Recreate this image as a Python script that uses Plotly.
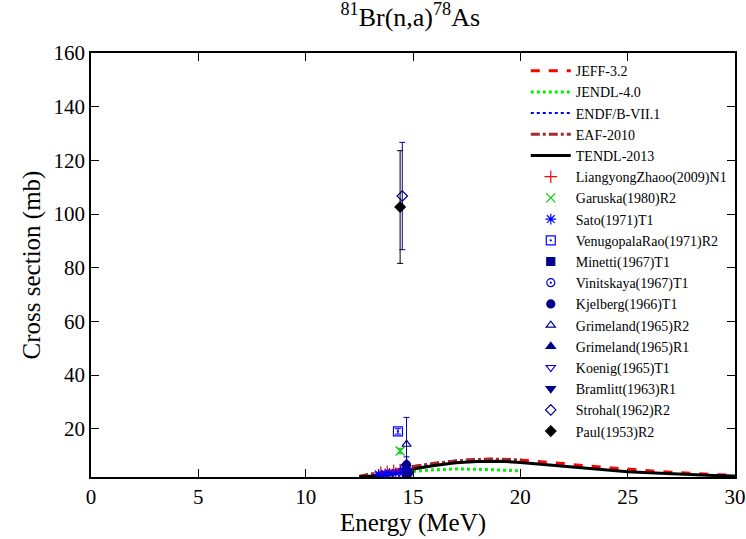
import plotly.graph_objects as go

# Evaluated data
e_eval = [12.5, 13, 13.5, 14, 14.5, 15, 16, 17, 18, 19, 20, 21, 22, 23, 24, 25, 26, 27, 28, 29, 30]
jeff = [2.2, 3.0, 3.5, 4.0, 4.9, 5.8, 7.0, 8.0, 8.6, 8.7, 8.3, 7.7, 7.0, 6.2, 5.5, 4.9, 4.3, 3.8, 3.3, 2.9, 2.6]
tendl = [2.0, 2.2, 2.4, 2.8, 3.8, 5.0, 6.3, 7.3, 7.8, 7.9, 7.4, 6.7, 6.0, 5.3, 4.6, 4.0, 3.6, 3.2, 2.9, 2.6, 2.4]
e_eval20 = [12.5, 13, 13.5, 14, 14.5, 15, 16, 17, 18, 19, 20]
jendl = [2.0, 2.3, 2.7, 3.2, 3.7, 4.1, 4.7, 5.0, 4.9, 4.6, 4.3]
endf = [2.1, 2.9, 3.4, 4.1, 5.0, 5.9, 7.1, 8.1, 8.6, 8.6, 8.4]
eaf = [2.2, 3.1, 3.6, 4.2, 5.0, 5.9, 7.1, 8.0, 8.5, 8.6, 8.3]

# Experimental data
zhao_e = [13.5, 13.8, 14.1, 14.4, 14.8]
zhao_v = [3.6, 3.9, 4.3, 4.6, 5.0]
zhao_err = [0.3, 0.3, 0.3, 0.4, 0.4]
garuska_e = [14.4]
garuska_v = [11.7]
garuska_err = [1.0]
sato_e = [13.4, 13.7, 13.9, 14.2, 14.5, 14.8]
sato_v = [3.0, 3.2, 3.3, 3.5, 3.6, 4.0]
sato_err = [0.4, 0.4, 0.4, 0.4, 0.4, 0.5]
venu_e = [14.3]
venu_v = [19.0]
venu_err = [1.0]
minetti_e = [14.7]
minetti_v = [3.5]
minetti_err = [0.7]
vinit_e = [14.6]
vinit_v = [5.5]
vinit_err = [1.0]
kjel_e = [14.7]
kjel_v = [6.5]
kjel_err = [1.0]
grimR2_e = [14.7]
grimR2_v = [14.2]
grimR2_err = [10.0]
grimR1_e = [14.7]
grimR1_v = [7.0]
grimR1_err = [2.5]
koenig_e = [14.6]
koenig_v = [4.5]
koenig_err = [0.8]
bram_e = [14.8]
bram_v = [3.0]
bram_err = [0.6]
strohal_e = [14.5]
strohal_v = [106.7]
strohal_err = [20.0]
paul_e = [14.4]
paul_v = [102.6]
paul_err = [21.0]

fig = go.Figure()

fig.add_trace(go.Scatter(x=e_eval, y=jeff, mode="lines", name="JEFF-3.2",
                         line=dict(color="#ff0000", width=3, dash="dash")))
fig.add_trace(go.Scatter(x=e_eval20, y=jendl, mode="lines", name="JENDL-4.0",
                         line=dict(color="#00ee00", width=3, dash="dot")))
fig.add_trace(go.Scatter(x=e_eval20, y=endf, mode="lines", name="ENDF/B-VII.1",
                         line=dict(color="#0000ff", width=2, dash="dot")))
fig.add_trace(go.Scatter(x=e_eval20, y=eaf, mode="lines", name="EAF-2010",
                         line=dict(color="#a52a2a", width=3, dash="dashdot")))
fig.add_trace(go.Scatter(x=e_eval, y=tendl, mode="lines", name="TENDL-2013",
                         line=dict(color="#000000", width=3)))

def exp(x, y, err, name, color, symbol, size=8):
    fig.add_trace(go.Scatter(
        x=x, y=y, mode="markers", name=name,
        marker=dict(color=color, symbol=symbol, size=size, line=dict(color=color, width=1.2)),
        error_y=dict(type="data", array=err, color=color, thickness=1, width=3),
    ))

exp(zhao_e, zhao_v, zhao_err, "LiangyongZhaoo(2009)N1", "#ff0000", "cross-thin-open", 9)
exp(garuska_e, garuska_v, garuska_err, "Garuska(1980)R2", "#00cc00", "x-thin-open", 9)
exp(sato_e, sato_v, sato_err, "Sato(1971)T1", "#0000ff", "asterisk-open", 9)
exp(venu_e, venu_v, venu_err, "VenugopalaRao(1971)R2", "#0000ff", "square-open-dot", 9)
exp(minetti_e, minetti_v, minetti_err, "Minetti(1967)T1", "#00008b", "square", 8)
exp(vinit_e, vinit_v, vinit_err, "Vinitskaya(1967)T1", "#0000cd", "circle-open-dot", 8)
exp(kjel_e, kjel_v, kjel_err, "Kjelberg(1966)T1", "#00008b", "circle", 8)
exp(grimR2_e, grimR2_v, grimR2_err, "Grimeland(1965)R2", "#00008b", "triangle-up-open", 8)
exp(grimR1_e, grimR1_v, grimR1_err, "Grimeland(1965)R1", "#00008b", "triangle-up", 8)
exp(koenig_e, koenig_v, koenig_err, "Koenig(1965)T1", "#0000cd", "triangle-down-open", 8)
exp(bram_e, bram_v, bram_err, "Bramlitt(1963)R1", "#00008b", "triangle-down", 8)
exp(strohal_e, strohal_v, strohal_err, "Strohal(1962)R2", "#00008b", "diamond-open", 8)
exp(paul_e, paul_v, paul_err, "Paul(1953)R2", "#000000", "diamond", 8)

font = "Liberation Serif, Times New Roman, serif"
axis_common = dict(showline=True, linecolor="black", linewidth=1.5, mirror="ticks",
                   ticks="inside", ticklen=8, tickcolor="black", showgrid=False,
                   zeroline=False, automargin=False,
                   tickfont=dict(family=font, size=21, color="black"))

fig.update_layout(
    width=746, height=539,
    paper_bgcolor="white", plot_bgcolor="white",
    margin=dict(l=91, r=11, t=53, b=62, pad=0),
    title=dict(text="<sup>81</sup>Br(n,a)<sup>78</sup>As", x=0.55, xanchor="center",
               y=0.985, yanchor="top", font=dict(family=font, size=26, color="black")),
    xaxis=dict(range=[0, 30], dtick=5, title=dict(text="Energy (MeV)", standoff=2,
               font=dict(family=font, size=25, color="black")), **axis_common),
    yaxis=dict(range=[2, 160], tickvals=[20, 40, 60, 80, 100, 120, 140, 160],
               title=dict(text="Cross section (mb)", standoff=6,
               font=dict(family=font, size=25, color="black")), **axis_common),
    legend=dict(x=0.995, xanchor="right", y=0.995, yanchor="top",
                bgcolor="rgba(0,0,0,0)", font=dict(family=font, size=14, color="black"),
                tracegroupgap=0, itemwidth=40),
    showlegend=True,
)

fig.write_html("out.html", config={"displayModeBar": False},
               post_script="document.body.style.margin='0';")
